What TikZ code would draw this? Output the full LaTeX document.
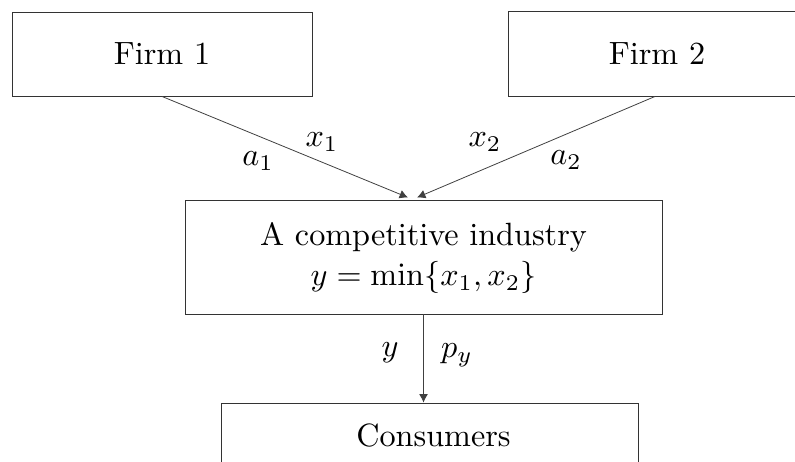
\documentclass[tikz,border=0pt]{standalone}
\usepackage{graphicx}
\usetikzlibrary{arrows.meta}
\newcommand{\bigtxt}[1]{\scalebox{1.61}{#1}}
\begin{document}
\begin{tikzpicture}[x=0.5pt,y=-0.5pt,
  every node/.style={font=\fontsize{10}{12.4}\selectfont},
  box/.style={draw=black!80,line width=0.45pt,rectangle,inner sep=0pt,align=center},
  conn/.style={draw=black!75,line width=0.4pt,-{Latex[length=4.2pt,width=4.4pt]}},
  lbl/.style={inner sep=0pt,anchor=center}]
\clip (0,0) rectangle (795,461);
\node[box,minimum width=150pt,minimum height=42pt] (f1) at (162,54) {\bigtxt{Firm 1}};
\node[box,minimum width=149pt,minimum height=42.5pt] (f2) at (657,53.5) {\bigtxt{Firm 2}};
\node[box,minimum width=238.5pt,minimum height=56.7pt] (ind) at (423.5,257.3)
  {\bigtxt{\begin{tabular}{@{}c@{}}A competitive industry\\ $y=\min\{x_1,x_2\}$\end{tabular}}};
\node[box,minimum width=208.5pt,minimum height=32pt] (cons) at (429.5,435) {\hspace{4pt}\bigtxt{Consumers}};
\coordinate (e1) at (408,197.5);
\coordinate (e2) at (417,197.5);
\draw[conn] (f1.south) -- (e1);
\draw[conn] (f2.south -| 655,0) -- (e2);
\draw[conn] (ind.south) -- (ind.south |- cons.north);
\node[lbl] (lx1) at (322,142) {\bigtxt{$x_1$}};
\node[lbl] (la1) at (258,161) {\bigtxt{$a_1$}};
\node[lbl] (lx2) at (485,142) {\bigtxt{$x_2$}};
\node[lbl] (la2) at (566,160) {\bigtxt{$a_2$}};
\node[lbl] (ly) at (390,353) {\bigtxt{$y$}};
\node[lbl] (lpy) at (457,355) {\bigtxt{$p_y$}};
\end{tikzpicture}
\end{document}
